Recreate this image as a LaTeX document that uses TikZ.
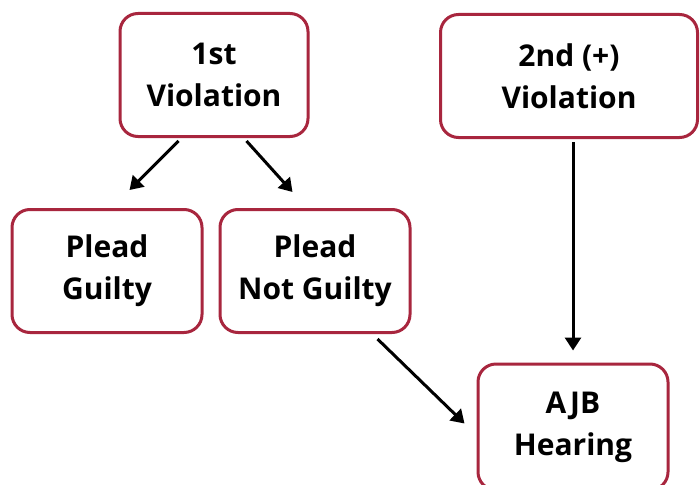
\documentclass[tikz,border=0pt]{standalone}
\usepackage{fontspec}
\setmainfont{Open Sans}
\usetikzlibrary{arrows.meta}
\definecolor{boxred}{RGB}{168,38,62}
\begin{document}
\begin{tikzpicture}
		[x=1pt,y=-1pt,
		stepbox/.style={draw=boxred,line width=3pt,rounded corners=18pt,fill=white,
			align=center,inner sep=0pt,minimum height=123pt,
			font=\fontsize{30}{42}\selectfont\bfseries},
		flow/.style={line width=3pt,-{Triangle[length=13pt,width=16pt]}},]
		\useasboundingbox (0,0) rectangle (700,484);
		\clip (0,0) rectangle (700,484);
		\node[stepbox,minimum width=188pt] (first) at (214,75) {1st\\Violation};
		\node[stepbox,minimum width=257pt] (second) at (569,76) {2nd (+)\\Violation};
		\node[stepbox,minimum width=190pt] (guilty) at (107,271) {Plead\\Guilty};
		\node[stepbox,minimum width=190pt] (notguilty) at (315,271) {Plead\\Not Guilty};
		\node[stepbox,minimum width=190pt,minimum height=126pt] (hearing) at (573,427) {AJB\\Hearing};
		% arrows
		\draw[flow] ([xshift=60pt,yshift=-3pt]first.south west) -- ([xshift=119pt,yshift=18pt]guilty.north west);
		\draw[flow] ([xshift=128pt,yshift=-3pt]first.south west) -- ([xshift=74pt,yshift=16pt]notguilty.north west);
		\draw[flow] ([xshift=4pt,yshift=-3pt]second.south) -- ([yshift=12pt]hearing.north);
		\draw[flow] ([xshift=-34pt,yshift=-5pt]notguilty.south east) -- ([xshift=-12pt,yshift=-61pt]hearing.north west);
	\end{tikzpicture}
\end{document}
